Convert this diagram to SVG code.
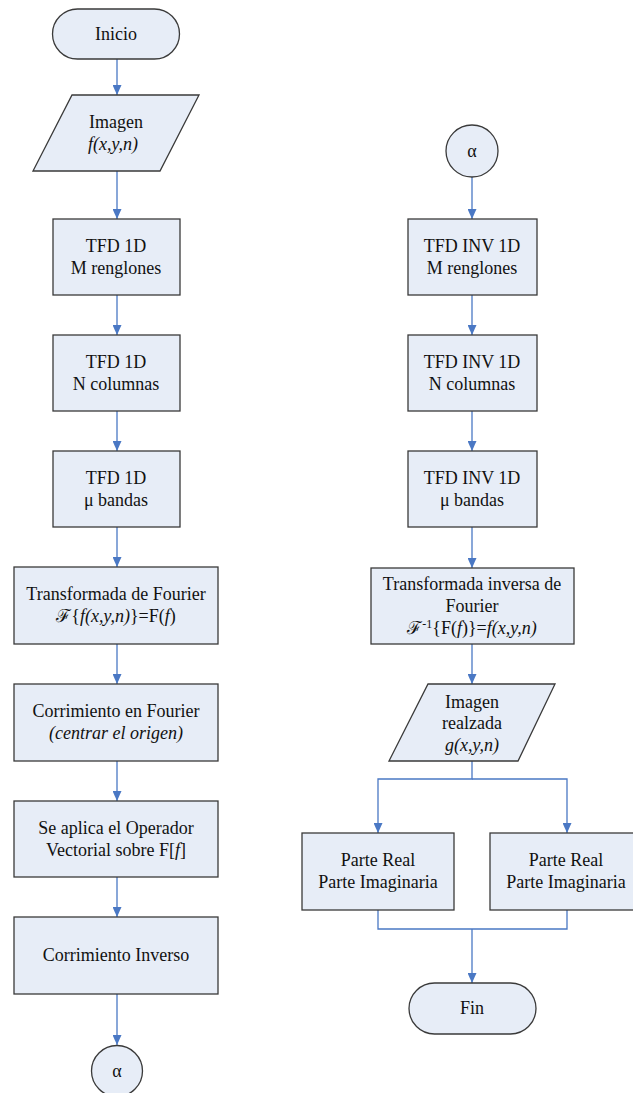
<svg xmlns="http://www.w3.org/2000/svg" width="633" height="1093" viewBox="0 0 633 1093">
<defs>
<style>
.s{fill:#E7EDF7;stroke:#3a3a3a;stroke-width:1.3}
.t{font-size:18px;fill:#111;text-anchor:middle}
.i{font-style:italic}
.c{fill:none;stroke:#4A78C4;stroke-width:1.3}
</style>
<marker id="ah" markerUnits="userSpaceOnUse" markerWidth="10" markerHeight="9" refX="10" refY="4.5" orient="auto">
<path d="M0,0 L10,4.5 L0,9 z" fill="#4A78C4"/>
</marker>
</defs>
<rect width="633" height="1093" fill="#fff"/>
<g id="connectors">
<path class="c" d="M117,59 V95" marker-end="url(#ah)"/>
<path class="c" d="M117,171 V219" marker-end="url(#ah)"/>
<path class="c" d="M117,295 V335" marker-end="url(#ah)"/>
<path class="c" d="M117,411 V451" marker-end="url(#ah)"/>
<path class="c" d="M117,527 V567" marker-end="url(#ah)"/>
<path class="c" d="M117,644 V684" marker-end="url(#ah)"/>
<path class="c" d="M117,761 V801" marker-end="url(#ah)"/>
<path class="c" d="M117,877 V917" marker-end="url(#ah)"/>
<path class="c" d="M117,994 V1045" marker-end="url(#ah)"/>
<path class="c" d="M472,177 V219" marker-end="url(#ah)"/>
<path class="c" d="M472,295 V335" marker-end="url(#ah)"/>
<path class="c" d="M472,411 V451" marker-end="url(#ah)"/>
<path class="c" d="M472,527 V568" marker-end="url(#ah)"/>
<path class="c" d="M472,644 V684" marker-end="url(#ah)"/>
<path class="c" d="M472,761 V779 H378 V833" marker-end="url(#ah)"/>
<path class="c" d="M472,779 H567 V833" marker-end="url(#ah)"/>
<path class="c" d="M378,910 V929 H567 V910"/>
<path class="c" d="M472,929 V983" marker-end="url(#ah)"/>
</g>
<g font-family="Liberation Serif, Times New Roman, DejaVu Serif, serif">
<g id="inicio">
<rect class="s" x="52.5" y="9" width="127" height="50" rx="25"/>
<text class="t" x="116" y="40">Inicio</text>
</g>
<g id="imagen">
<polygon class="s" points="72,95 199,95 160,171 33,171"/>
<text class="t" x="116" y="128">Imagen</text>
<text class="t i" x="113" y="150">f(x,y,n)</text>
</g>
<g id="tfd-m">
<rect class="s" x="53" y="219" width="127" height="76"/>
<text class="t" x="116" y="252">TFD 1D</text>
<text class="t" x="116" y="274">M renglones</text>
</g>
<g id="tfd-n">
<rect class="s" x="53" y="335" width="127" height="76"/>
<text class="t" x="116" y="368">TFD 1D</text>
<text class="t" x="116" y="390">N columnas</text>
</g>
<g id="tfd-mu">
<rect class="s" x="53" y="451" width="127" height="76"/>
<text class="t" x="116" y="484">TFD 1D</text>
<text class="t" x="116" y="506">μ bandas</text>
</g>
<g id="transformada">
<rect class="s" x="14" y="567" width="204" height="77"/>
<text class="t" x="116" y="600">Transformada de Fourier</text>
<text class="t" x="116" y="622">ℱ{<tspan class="i">f(x,y,n)</tspan>}=F(<tspan class="i">f</tspan>)</text>
</g>
<g id="corrimiento">
<rect class="s" x="14" y="684" width="204" height="77"/>
<text class="t" x="116" y="717">Corrimiento en Fourier</text>
<text class="t i" x="116" y="739">(centrar el origen)</text>
</g>
<g id="operador">
<rect class="s" x="14" y="801" width="204" height="76"/>
<text class="t" x="116" y="834">Se aplica el Operador</text>
<text class="t" x="116" y="856">Vectorial sobre F[<tspan class="i">f</tspan>]</text>
</g>
<g id="corrimiento-inverso">
<rect class="s" x="14" y="917" width="204" height="77"/>
<text class="t" x="116" y="961">Corrimiento Inverso</text>
</g>
<g id="alpha-out">
<circle class="s" cx="117" cy="1071" r="25.5"/>
<text class="t" x="117" y="1077">α</text>
</g>
<g id="alpha-in">
<circle class="s" cx="472" cy="151" r="26"/>
<text class="t" x="472" y="157">α</text>
</g>
<g id="inv-m">
<rect class="s" x="408" y="219" width="129" height="76"/>
<text class="t" x="472" y="252">TFD INV 1D</text>
<text class="t" x="472" y="274">M renglones</text>
</g>
<g id="inv-n">
<rect class="s" x="408" y="335" width="129" height="76"/>
<text class="t" x="472" y="368">TFD INV 1D</text>
<text class="t" x="472" y="390">N columnas</text>
</g>
<g id="inv-mu">
<rect class="s" x="408" y="451" width="129" height="76"/>
<text class="t" x="472" y="484">TFD INV 1D</text>
<text class="t" x="472" y="506">μ bandas</text>
</g>
<g id="transformada-inversa">
<rect class="s" x="371" y="568" width="203" height="76"/>
<text class="t" x="472" y="590">Transformada  inversa de</text>
<text class="t" x="472" y="612">Fourier</text>
<text class="t" x="472" y="634">ℱ<tspan font-size="12" dy="-6">-1</tspan><tspan dy="6">{F(</tspan><tspan class="i">f</tspan>)}=<tspan class="i">f(x,y,n)</tspan></text>
</g>
<g id="imagen-realzada">
<polygon class="s" points="428,684 555,684 518,761 389,761"/>
<text class="t" x="472" y="708">Imagen</text>
<text class="t" x="472" y="729">realzada</text>
<text class="t i" x="472" y="751">g(x,y,n)</text>
</g>
<g id="parte-1">
<rect class="s" x="302" y="833" width="152" height="77"/>
<text class="t" x="378" y="866">Parte Real</text>
<text class="t" x="378" y="888">Parte Imaginaria</text>
</g>
<g id="parte-2">
<rect class="s" x="490" y="833" width="152" height="77"/>
<text class="t" x="566" y="866">Parte Real</text>
<text class="t" x="566" y="888">Parte Imaginaria</text>
</g>
<g id="fin">
<rect class="s" x="409" y="983" width="127" height="51" rx="25.5"/>
<text class="t" x="472" y="1014">Fin</text>
</g>
</g>
</svg>
